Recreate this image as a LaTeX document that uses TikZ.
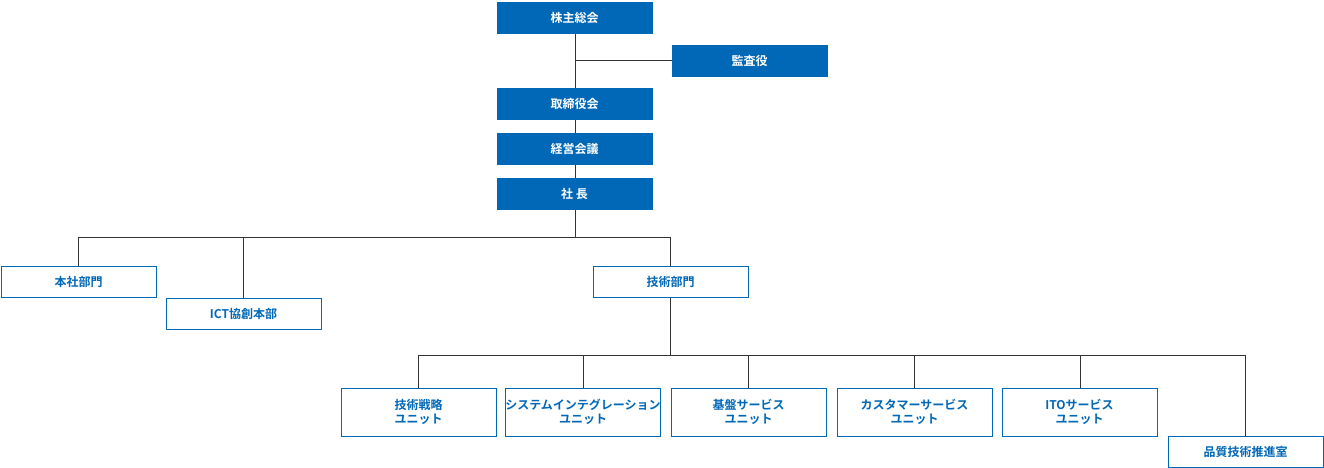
\documentclass[tikz,border=0pt]{standalone}
\usepackage{fontspec}
\setmainfont{Noto Sans CJK JP}[BoldFont={Noto Sans CJK JP Bold}]
\definecolor{cblue}{HTML}{0068B7}
\definecolor{cline}{HTML}{333333}
\begin{document}
\begin{tikzpicture}[x=1pt,y=-1pt,
  fbox/.style={fill=cblue,draw=cblue,minimum width=155pt,minimum height=31pt,text=white,font=\bfseries\fontsize{12}{14}\selectfont,inner sep=0pt},
  obox/.style={fill=white,draw=cblue,line width=1pt,minimum width=155pt,minimum height=31pt,text=cblue,font=\bfseries\fontsize{12}{14}\selectfont,inner sep=0pt,align=center},
  ubox/.style={obox,minimum height=48pt},
  conn/.style={draw=cline,line width=0.8pt}]
\useasboundingbox (0,0) rectangle (1324,468);
\draw[conn] (575,33) -- (575,178);
\draw[conn] (575,60) -- (672,60);
\draw[conn] (575,209) -- (575,237);
\draw[conn] (78,266) -- (78,237) -- (670,237) -- (670,266);
\draw[conn] (243,237) -- (243,298);
\draw[conn] (670,297) -- (670,355);
\draw[conn] (418,388) -- (418,355) -- (1245,355) -- (1245,436);
\foreach \x in {583,748,914,1080} \draw[conn] (\x,355) -- (\x,388);
\node[fbox] (a) at (574.5,17.5) {株主総会};
\node[fbox] (b) at (749.5,60.5) {監査役};
\node[fbox] (c) at (574.5,103.5) {取締役会};
\node[fbox] (d) at (574.5,148.5) {経営会議};
\node[fbox] (e) at (574.5,193.5) {社 長};
\node[obox] (f) at (78.5,281.5) {本社部門};
\node[obox] (g) at (243.5,313.5) {ICT協創本部};
\node[obox] (h) at (670.5,281.5) {技術部門};
\node[ubox] (u1) at (418.5,412) {技術戦略\\ユニット};
\node[ubox] (u2) at (583,412) {システムインテグレーション\\ユニット};
\node[ubox] (u3) at (748.5,412) {基盤サービス\\ユニット};
\node[ubox] (u4) at (914.5,412) {カスタマーサービス\\ユニット};
\node[ubox] (u5) at (1079.5,412) {ITOサービス\\ユニット};
\node[obox] (q) at (1245.5,451.5) {品質技術推進室};
\end{tikzpicture}
\end{document}
